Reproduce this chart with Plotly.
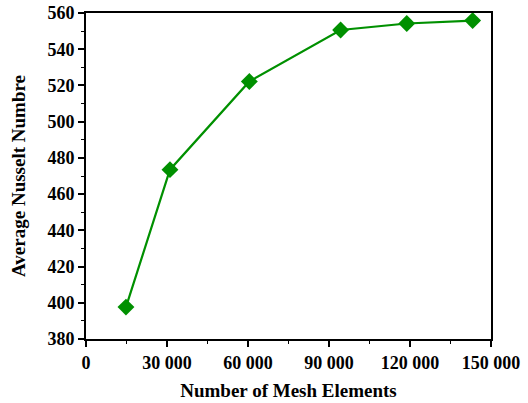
import plotly.graph_objects as go

mesh_elements = [14800, 31100, 60500, 94300, 118800, 143200]
nusselt = [397.6, 473.5, 522.2, 550.6, 554.2, 555.8]

x_tick_vals = [0, 30000, 60000, 90000, 120000, 150000]
x_tick_text = ["0", "30 000", "60 000", "90 000", "120 000", "150 000"]
y_tick_vals = [380, 400, 420, 440, 460, 480, 500, 520, 540, 560]

green = "#009000"
tick_font = dict(family="Liberation Serif", size=18, color="black", weight="bold")
title_font = dict(family="Liberation Serif", size=19, color="black")

fig = go.Figure(go.Scatter(
    x=mesh_elements, y=nusselt, mode="lines+markers",
    line=dict(color=green, width=2.2),
    marker=dict(symbol="diamond", size=13, color=green),
))

fig.update_layout(
    width=528, height=403,
    margin=dict(l=86, r=37, t=13, b=64),
    plot_bgcolor="white", paper_bgcolor="white",
    showlegend=False,
)
fig.update_xaxes(
    automargin=False, ticklabeloverflow="allow",
    range=[0, 150000], tickvals=x_tick_vals, ticktext=x_tick_text,
    ticks="outside", ticklen=6, tickwidth=1.5, tickcolor="black",
    minor=dict(dtick=15000, ticks="outside", ticklen=3, tickwidth=1.2, tickcolor="black"),
    showline=True, linecolor="black", linewidth=2, mirror=True,
    showgrid=False, zeroline=False,
    tickfont=tick_font,
    title=dict(text="<b>Number of Mesh Elements</b>", font=title_font, standoff=12),
)
fig.update_yaxes(
    automargin=False, ticklabeloverflow="allow",
    range=[380, 560], tickvals=y_tick_vals,
    ticks="outside", ticklen=6, tickwidth=1.5, tickcolor="black",
    minor=dict(dtick=10, ticks="outside", ticklen=3, tickwidth=1.2, tickcolor="black"),
    showline=True, linecolor="black", linewidth=2, mirror=True,
    showgrid=False, zeroline=False,
    tickfont=tick_font,
    title=dict(text="<b>Average Nusselt Numbre</b>", font=title_font, standoff=17),
)

fig.write_html("out.html", config={"displayModeBar": False},
               post_script="document.body.style.margin='0';")
